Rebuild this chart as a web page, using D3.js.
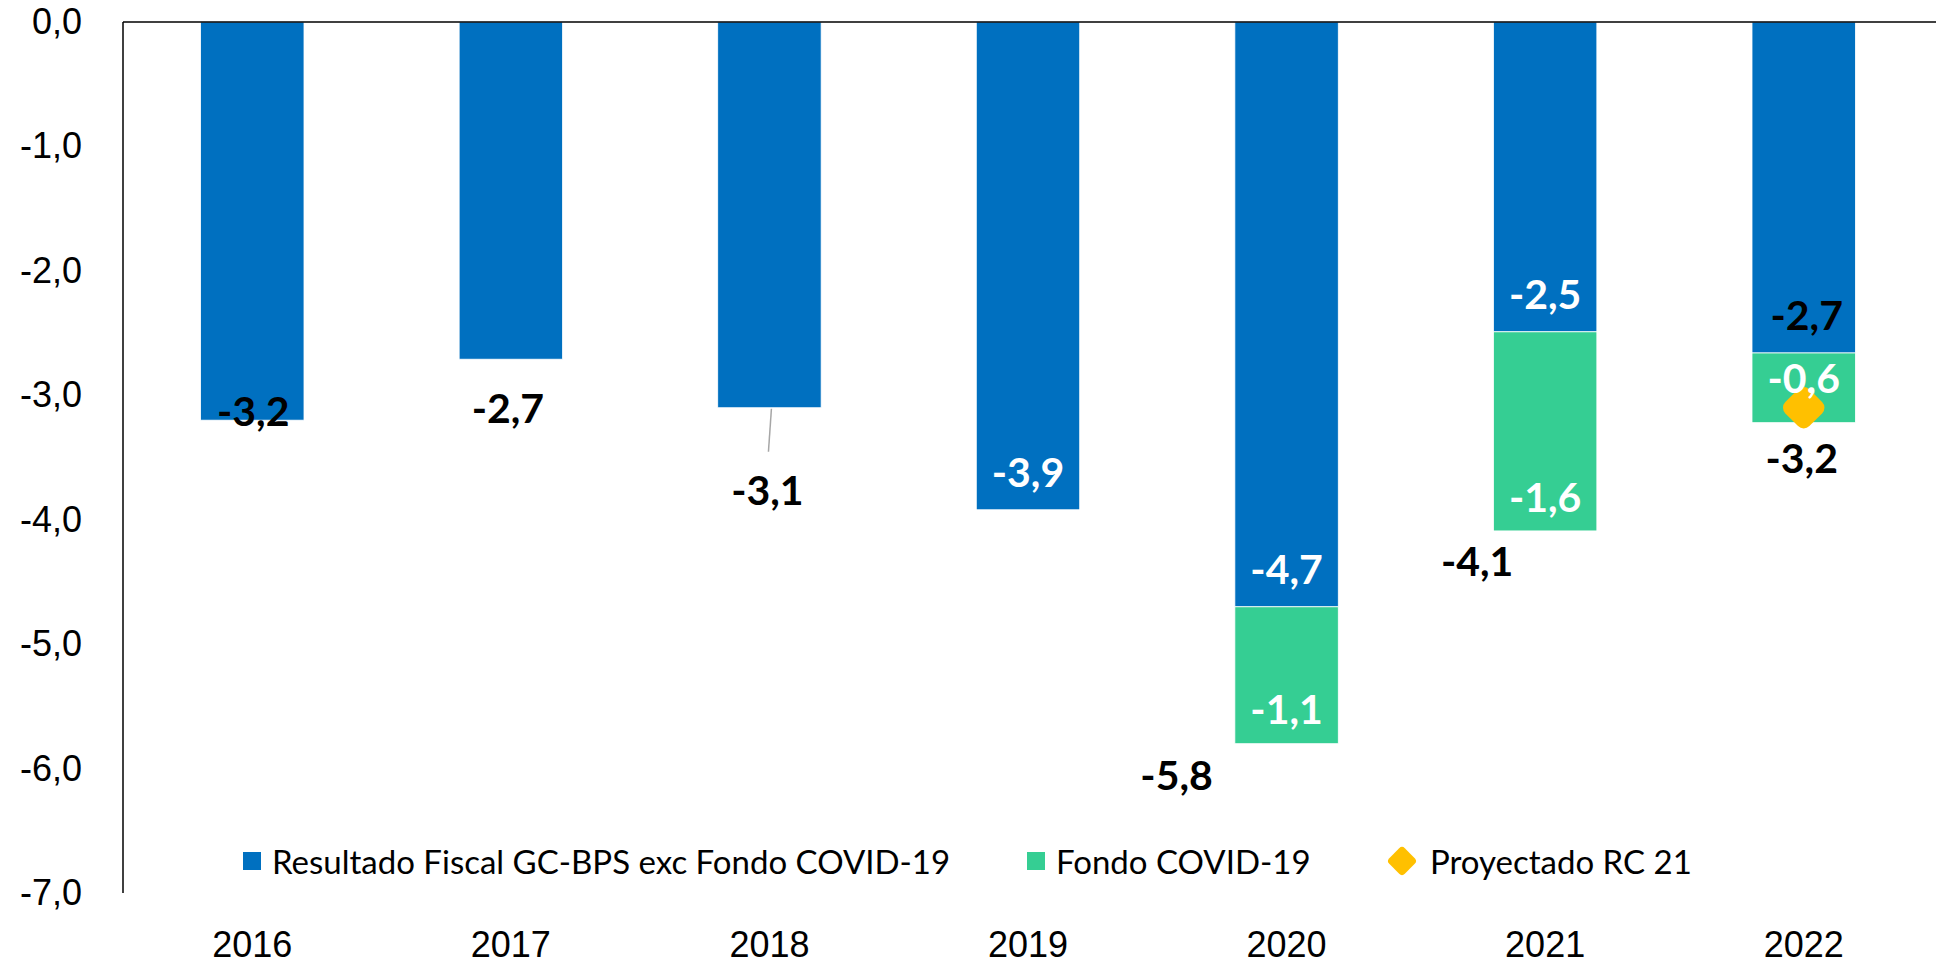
<!DOCTYPE html>
<html>
<head>
<meta charset="utf-8">
<script src="https://cdn.jsdelivr.net/npm/d3@7"></script>
<style>
  body { margin: 0; background: #fff; }
  svg { display: block; font-family: Lato, "Open Sans", sans-serif; }
</style>
</head>
<body>
<svg id="chart"></svg>
<script>
// data
const years = ['2016', '2017', '2018', '2019', '2020', '2021', '2022'];
const resultado = [-3.2, -2.71, -3.1, -3.92, -4.7, -2.49, -2.66];
const fondo = [0, 0, 0, 0, -1.1, -1.6, -0.56];
const proyectado = [null, null, null, null, null, null, -3.1];
const yTicks = [0, -1, -2, -3, -4, -5, -6, -7];
const seriesNames = ['Resultado Fiscal GC-BPS exc Fondo COVID-19', 'Fondo COVID-19', 'Proyectado RC 21'];

// label nudges (Excel had them placed by hand)
const resLabelColor = ['#000', '#000', '#000', '#fff', '#fff', '#fff', '#000'];
const resLabelDx = [1, -3, -2, 0, 0, 0, 3];
const resLabelDy = [-10, 48, 82, -38, -38, -38, -38];
const fondoLabelDy = [0, 0, 0, 0, -35, -34, -45];
const totalDx = [0, 0, 0, 0, -110, -68, -2];
const totalDy = [0, 0, 0, 0, 31, 30, 35];

const colors = { res: '#0070C0', fondo: '#35CE93', proy: '#FFC000' };

const width = 1936, height = 968;
const margin = { top: 22, right: 3, bottom: 75, left: 123 };
const w = width - margin.left - margin.right;
const h = height - margin.top - margin.bottom;

const svg = d3.select('#chart').attr('width', width).attr('height', height);
const chart = svg.append('g').attr('transform', `translate(${margin.left},${margin.top})`);

const x = d3.scaleBand().domain(years).range([0, w]).paddingInner(0.6).paddingOuter(0.3);
const y = d3.scaleLinear().domain([0, -7]).range([0, h]);
const fmt = v => d3.format('.1f')(v).replace('.', ',').replace('−', '-');

// y axis labels
const yAxis = d3.axisLeft(y).tickValues(yTicks).tickSize(0).tickPadding(41).tickFormat(fmt);
chart.append('g').call(yAxis)
  .call(g => g.select('.domain').remove())
  .selectAll('text')
  .style('font-size', '36px')
  .attr('fill', '#000');

// x axis labels (categories)
const xAxis = d3.axisBottom(x).tickSize(0).tickPadding(38);
chart.append('g').attr('transform', `translate(0,${h})`).call(xAxis)
  .call(g => g.select('.domain').remove())
  .selectAll('text')
  .style('font-size', '36px')
  .attr('fill', '#000');

// bars
const rows = years.map((yr, i) => ({ yr, i, res: resultado[i], fondo: fondo[i], proy: proyectado[i] }));

chart.selectAll('.bar-res').data(rows).join('rect')
  .attr('class', 'bar-res')
  .attr('x', d => x(d.yr))
  .attr('width', x.bandwidth())
  .attr('y', y(0))
  .attr('height', d => y(d.res) - y(0))
  .attr('fill', colors.res)
  .attr('stroke', '#fff').attr('stroke-width', 0.8);

chart.selectAll('.bar-fondo').data(rows.filter(d => d.fondo !== 0)).join('rect')
  .attr('class', 'bar-fondo')
  .attr('x', d => x(d.yr))
  .attr('width', x.bandwidth())
  .attr('y', d => y(d.res))
  .attr('height', d => y(d.res + d.fondo) - y(d.res))
  .attr('fill', colors.fondo)
  .attr('stroke', '#fff').attr('stroke-width', 0.8);

// axis lines
chart.append('line').attr('x1', 0).attr('x2', w + margin.right).attr('y1', y(0)).attr('y2', y(0))
  .attr('stroke', '#000').attr('stroke-width', 1.5);
chart.append('line').attr('x1', 0).attr('x2', 0).attr('y1', y(0)).attr('y2', y(-7))
  .attr('stroke', '#000').attr('stroke-width', 1.5);

// leader line for 2018
const r18 = rows[2];
chart.append('line')
  .attr('x1', x(r18.yr) + x.bandwidth() / 2 + 2).attr('y1', y(r18.res) + 1)
  .attr('x2', x(r18.yr) + x.bandwidth() / 2 - 1).attr('y2', y(r18.res) + 44)
  .attr('stroke', '#a6a6a6').attr('stroke-width', 1.5);

// projected marker (rounded diamond)
const dSize = 34;
chart.selectAll('.proy').data(rows.filter(d => d.proy != null)).join('rect')
  .attr('class', 'proy')
  .attr('x', -dSize / 2).attr('y', -dSize / 2)
  .attr('width', dSize).attr('height', dSize)
  .attr('rx', 8).attr('ry', 8)
  .attr('transform', d => `translate(${x(d.yr) + x.bandwidth() / 2},${y(d.proy)}) rotate(45)`)
  .attr('fill', colors.proy);

// labels
const labelStyle = sel => sel
  .attr('text-anchor', 'middle')
  .attr('dominant-baseline', 'central')
  .style('font-size', '41px')
  .style('font-weight', 'bold');

chart.selectAll('.lbl-res').data(rows).join('text')
  .attr('class', 'lbl-res')
  .attr('x', d => x(d.yr) + x.bandwidth() / 2 + resLabelDx[d.i])
  .attr('y', d => y(d.res) + resLabelDy[d.i])
  .attr('fill', d => resLabelColor[d.i])
  .call(labelStyle)
  .text(d => fmt(d.res));

const withFondo = rows.filter(d => d.fondo !== 0);

chart.selectAll('.lbl-fondo').data(withFondo).join('text')
  .attr('class', 'lbl-fondo')
  .attr('x', d => x(d.yr) + x.bandwidth() / 2)
  .attr('y', d => y(d.res + d.fondo) + fondoLabelDy[d.i])
  .attr('fill', '#fff')
  .call(labelStyle)
  .text(d => fmt(d.fondo));

chart.selectAll('.lbl-total').data(withFondo).join('text')
  .attr('class', 'lbl-total')
  .attr('x', d => x(d.yr) + x.bandwidth() / 2 + totalDx[d.i])
  .attr('y', d => y(d.res + d.fondo) + totalDy[d.i])
  .attr('fill', '#000')
  .call(labelStyle)
  .text(d => fmt(d.res + d.fondo));

// legend
const legend = svg.append('g').attr('transform', 'translate(243,861)');
const legendX = [0, 784, 1147];
const legendColors = [colors.res, colors.fondo, colors.proy];
seriesNames.forEach((name, i) => {
  const g = legend.append('g').attr('transform', `translate(${legendX[i]},0)`);
  if (i < 2) {
    g.append('rect').attr('x', 0).attr('y', -9).attr('width', 18).attr('height', 18).attr('fill', legendColors[i]);
  } else {
    g.append('rect').attr('x', -11).attr('y', -11).attr('width', 22).attr('height', 22)
      .attr('rx', 4).attr('transform', 'translate(12,0) rotate(45)').attr('fill', legendColors[i]);
  }
  g.append('text')
    .attr('x', i < 2 ? 29 : 40)
    .attr('y', 0)
    .attr('dominant-baseline', 'central')
    .style('font-size', '33px')
    .attr('fill', '#000')
    .text(name);
});
</script>
</body>
</html>
